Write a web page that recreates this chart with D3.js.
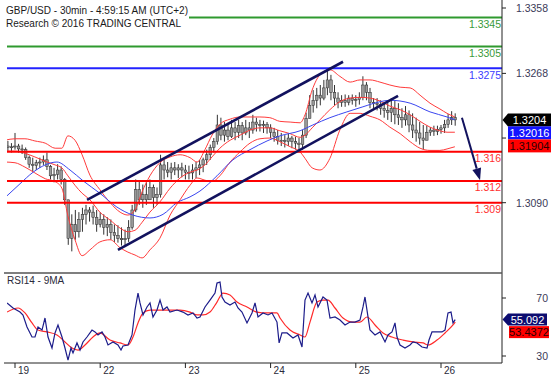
<!DOCTYPE html>
<html><head><meta charset="utf-8">
<script src="https://cdn.jsdelivr.net/npm/d3@7"></script>
<style>body{margin:0;background:#fff}svg{display:block;font-family:Arial,"Liberation Sans",sans-serif}</style>
</head><body><svg id="c" width="557" height="379"></svg>
<script>
// ---------- DATA ----------
const headerLine1 = "GBP/USD - 30min - 4:59:15 AM (UTC+2)";
const headerLine2 = "Research \u00a9 2016 TRADING CENTRAL";
const dayHours = [0, 24, 48, 72, 96, 120];
const dayLabels = ["19", "22", "23", "24", "25", "26"];
const priceTicks = [1.3358, 1.3268, 1.3179, 1.3090];
const priceTickLabels = ["1.3358", "1.3268", "", "1.3090"];
const rsiTicks = [70, 30];
const rsiTickLabels = ["70", "30"];

const levelValues = [1.3345, 1.3305, 1.3275, 1.316, 1.312, 1.309];
const levelLabels = ["1.3345", "1.3305", "1.3275", "1.316", "1.312", "1.309"];
const levelKinds = ["resistance", "resistance", "pivot", "support", "support", "support"];

// hourly bars, first bar at hour -2 (hours counted from the 19th, trading time)
const barStartHour = -2;
const firstOpen = 1.3168;
const highs = [1.3175,1.3172,1.3186,1.3171,1.3170,1.3166,1.3155,1.3152,1.3149,1.3152,1.3155,1.3159,1.3142,1.3138,1.3143,1.3140,1.3124,1.3094,1.3074,1.3080,1.3077,1.3083,1.3087,1.3084,1.3086,1.3080,1.3077,1.3074,1.3070,1.3067,1.3060,1.3059,1.3056,1.3053,1.3066,1.3087,1.3122,1.3119,1.3115,1.3118,1.3122,1.3115,1.3111,1.3156,1.3149,1.3146,1.3145,1.3146,1.3143,1.3145,1.3142,1.3141,1.3143,1.3146,1.3149,1.3152,1.3163,1.3170,1.3179,1.3211,1.3207,1.3201,1.3200,1.3204,1.3201,1.3204,1.3201,1.3204,1.3201,1.3211,1.3207,1.3204,1.3203,1.3201,1.3198,1.3193,1.3190,1.3186,1.3183,1.3185,1.3182,1.3181,1.3179,1.3190,1.3214,1.3238,1.3245,1.3248,1.3252,1.3259,1.3275,1.3266,1.3252,1.3242,1.3238,1.3239,1.3238,1.3239,1.3238,1.3242,1.3264,1.3256,1.3248,1.3234,1.3234,1.3231,1.3228,1.3231,1.3234,1.3231,1.3227,1.3220,1.3223,1.3217,1.3213,1.3207,1.3201,1.3197,1.3196,1.3194,1.3196,1.3196,1.3197,1.3204,1.3212,1.3216,1.3213];
const lows = [1.3160,1.3159,1.3163,1.3159,1.3157,1.3149,1.3138,1.3133,1.3135,1.3138,1.3142,1.3135,1.3122,1.3118,1.3122,1.3115,1.3087,1.3032,1.3023,1.3039,1.3042,1.3050,1.3060,1.3064,1.3060,1.3050,1.3056,1.3046,1.3044,1.3039,1.3036,1.3035,1.3031,1.3029,1.3036,1.3053,1.3077,1.3087,1.3083,1.3087,1.3094,1.3083,1.3087,1.3097,1.3122,1.3125,1.3122,1.3128,1.3124,1.3125,1.3122,1.3122,1.3122,1.3124,1.3128,1.3132,1.3142,1.3149,1.3159,1.3170,1.3176,1.3174,1.3176,1.3179,1.3176,1.3179,1.3176,1.3183,1.3179,1.3185,1.3188,1.3188,1.3186,1.3185,1.3179,1.3174,1.3170,1.3168,1.3166,1.3168,1.3165,1.3163,1.3159,1.3163,1.3179,1.3206,1.3214,1.3220,1.3224,1.3231,1.3238,1.3231,1.3224,1.3220,1.3222,1.3222,1.3224,1.3225,1.3222,1.3225,1.3231,1.3231,1.3220,1.3220,1.3217,1.3211,1.3207,1.3204,1.3201,1.3198,1.3197,1.3193,1.3196,1.3187,1.3179,1.3174,1.3170,1.3163,1.3176,1.3182,1.3182,1.3183,1.3185,1.3186,1.3193,1.3197,1.3196];
const closes = [1.3166,1.3167,1.3168,1.3164,1.3163,1.3152,1.3143,1.3141,1.3145,1.3146,1.3149,1.3140,1.3127,1.3129,1.3135,1.3122,1.3094,1.3041,1.3060,1.3050,1.3067,1.3074,1.3080,1.3077,1.3070,1.3060,1.3067,1.3056,1.3060,1.3049,1.3045,1.3041,1.3039,1.3041,1.3056,1.3080,1.3108,1.3094,1.3101,1.3094,1.3111,1.3097,1.3101,1.3142,1.3135,1.3132,1.3138,1.3135,1.3138,1.3135,1.3132,1.3131,1.3135,1.3138,1.3142,1.3149,1.3156,1.3166,1.3174,1.3197,1.3183,1.3190,1.3181,1.3193,1.3187,1.3196,1.3186,1.3193,1.3190,1.3201,1.3198,1.3196,1.3198,1.3193,1.3187,1.3181,1.3176,1.3176,1.3174,1.3179,1.3174,1.3172,1.3170,1.3183,1.3206,1.3224,1.3231,1.3238,1.3234,1.3248,1.3259,1.3242,1.3234,1.3228,1.3231,1.3228,1.3234,1.3231,1.3232,1.3235,1.3252,1.3242,1.3228,1.3227,1.3225,1.3220,1.3217,1.3214,1.3220,1.3211,1.3207,1.3204,1.3211,1.3197,1.3190,1.3186,1.3179,1.3176,1.3187,1.3190,1.3188,1.3191,1.3193,1.3198,1.3204,1.3207,1.3204];

// Bollinger bands
const bbHours = [-2.8,0,2.8,5.6,8.5,11.3,13.2,14.9,16.9,18.9,21.1,23.9,26.8,29.6,31.8,33.8,35.8,38.0,40.8,43.7,46.5,49.3,51.3,53.5,55.5,57.7,60.6,63.4,66.2,69.0,71.8,74.6,77.5,80.3,81.7,83.7,85.9,88.7,91.5,94.4,97.2,100.0,102.8,105.6,108.5,111.3,114.1,116.9,119.7,121.7,123.9];
const bbUpper = [1.3176,1.3178,1.3178,1.3175,1.3172,1.3165,1.3165,1.3182,1.3176,1.3156,1.3128,1.3108,1.3090,1.3077,1.3073,1.3080,1.3105,1.3127,1.3145,1.3153,1.3156,1.3152,1.3146,1.3163,1.3183,1.3198,1.3205,1.3208,1.3208,1.3208,1.3207,1.3202,1.3201,1.3200,1.3211,1.3245,1.3266,1.3273,1.3264,1.3256,1.3259,1.3259,1.3256,1.3252,1.3249,1.3248,1.3238,1.3227,1.3219,1.3213,1.3208];
const bbMiddle = [1.3161,1.3161,1.3158,1.3153,1.3147,1.3142,1.3138,1.3127,1.3114,1.3103,1.3094,1.3077,1.3066,1.3055,1.3050,1.3052,1.3063,1.3077,1.3091,1.3110,1.3124,1.3132,1.3135,1.3142,1.3153,1.3165,1.3176,1.3183,1.3190,1.3193,1.3193,1.3189,1.3185,1.3180,1.3183,1.3193,1.3204,1.3218,1.3229,1.3234,1.3235,1.3234,1.3230,1.3223,1.3218,1.3211,1.3202,1.3194,1.3189,1.3187,1.3187];
const bbLower = [1.3146,1.3145,1.3139,1.3131,1.3123,1.3119,1.3110,1.3072,1.3039,1.3017,1.3025,1.3036,1.3039,1.3028,1.3022,1.3018,1.3014,1.3025,1.3041,1.3073,1.3094,1.3114,1.3124,1.3121,1.3119,1.3127,1.3146,1.3160,1.3172,1.3178,1.3179,1.3174,1.3167,1.3160,1.3151,1.3138,1.3135,1.3151,1.3190,1.3213,1.3213,1.3209,1.3204,1.3194,1.3185,1.3174,1.3165,1.3162,1.3162,1.3164,1.3167];

// moving average (blue)
const maHours = [-2.8,1.4,5.1,8.5,11.8,15.5,19.2,23.9,28.7,33.2,38.0,41.7,45.6,49.3,52.1,56.9,61.4,66.2,71.0,74.6,80.3,83.9,88.7,93.5,98.0,102.8,105.6,111.3,116.9,121.7,123.9];
const maValues = [1.3097,1.3116,1.3132,1.3142,1.3146,1.3135,1.3120,1.3103,1.3084,1.3073,1.3069,1.3074,1.3090,1.3098,1.3106,1.3127,1.3149,1.3163,1.3175,1.3182,1.3189,1.3197,1.3207,1.3215,1.3222,1.3229,1.3231,1.3227,1.3215,1.3208,1.3204];

// trend channel and arrow (hour, price)
const channelUpperHours = [20.3, 92.4];
const channelUpperPrices = [1.3094, 1.3284];
const channelLowerHours = [29.0, 107.9];
const channelLowerPrices = [1.3025, 1.3237];
const arrowHours = [125.9, 131.0];
const arrowPrices = [1.3207, 1.3121];

// price boxes on the right axis
const lastPrice = 1.3204;
const boxValues = ["1.3204", "1.32016", "1.31904"];

// RSI14 and its 9MA
const rsiHours = [-2.25,-0.56,1.41,2.25,3.38,4.79,5.63,6.48,7.61,8.45,9.30,10.42,11.27,12.11,13.24,14.08,14.93,15.77,16.34,17.46,18.31,19.15,20.28,21.69,22.54,23.38,24.51,25.35,26.20,27.61,29.01,29.86,30.42,31.83,32.96,33.80,34.65,35.21,36.06,37.18,38.03,38.87,40.0,40.85,41.69,42.82,43.66,45.63,47.32,48.73,50.14,51.27,52.11,53.52,54.93,56.34,56.90,57.75,58.31,59.15,60.56,61.97,62.82,63.94,65.35,66.76,67.61,68.45,69.86,71.27,72.39,73.80,74.4,75.2,76.62,78.31,79.72,80.85,81.69,82.54,83.66,84.51,85.35,86.76,87.89,88.73,90.14,91.55,92.96,94.37,95.77,97.18,98.03,98.59,99.15,100.0,101.41,102.82,104.23,105.07,106.20,107.04,107.61,108.45,109.86,111.27,112.11,113.24,114.65,116.06,116.62,117.46,118.87,120.28,121.13,121.97,122.82,123.38,124.0];
const rsiValues = [66.6,63.1,60.3,58.3,50.0,43.1,43.1,50.0,47.9,56.2,43.1,35.5,45.9,51.4,43.1,35.5,27.2,35.5,32.1,39.0,34.1,39.7,43.1,47.9,46.6,44.5,46.6,43.1,37.6,39.7,37.6,34.1,36.9,37.6,44.5,61.7,73.4,66.6,58.3,63.8,66.6,56.9,61.7,68.6,61.7,63.8,60.3,61.7,60.3,58.3,59.7,56.2,56.9,63.8,68.6,73.4,80.3,81.0,70.7,67.2,65.2,67.2,63.1,60.3,52.8,59.7,66.6,56.9,59.7,58.3,59.7,53.4,39.0,45.9,45.9,42.4,44.5,36.2,68.6,73.4,66.6,72.1,63.8,70.7,68.6,56.2,56.9,54.8,51.4,53.4,53.4,54.8,63.8,70.7,61.7,47.9,44.5,46.6,39.7,44.5,46.6,52.8,43.1,37.6,35.5,37.6,39.7,39.0,36.2,35.5,41.0,46.6,46.6,46.6,47.9,59.7,60.3,52.8,55.092];
const rsiMaHours = [-2.25,0.85,2.82,4.79,6.48,9.01,11.83,14.08,16.06,17.75,19.72,21.97,23.94,26.76,29.58,31.83,33.24,34.65,36.06,38.03,40.0,42.82,46.48,49.30,51.27,52.96,54.93,56.90,58.59,60.56,62.54,65.35,68.17,70.99,73.80,74.65,77.46,80.28,81.69,83.10,85.07,86.76,88.17,90.14,92.39,95.21,97.18,99.15,101.41,103.66,106.20,109.30,112.11,114.93,116.34,118.87,121.13,123.38,124.0];
const rsiMaValues = [60.3,63.1,59.7,52.8,47.9,46.6,44.5,39.7,35.5,34.1,37.6,43.1,45.9,41.0,39.0,37.6,43.1,52.8,59.7,61.7,61.7,61.7,61.7,60.3,58.3,58.3,60.3,67.2,73.4,72.1,67.2,63.8,60.3,59.7,59.7,56.2,47.9,44.5,43.1,53.4,67.2,68.6,68.6,63.1,56.2,53.4,53.4,56.9,51.4,45.9,43.1,41.0,39.7,39.0,37.6,41.0,45.9,51.4,53.4372];
const rsiBoxValues = ["55.092", "53.4372"];
const rsiTitle = "RSI14 - 9MA";

// ---------- DRAWING ----------
const svg = d3.select("#c");
const xL = 4, xLines = 7, xR = 502;
const mainTop = 2, mainBot = 262, rsiTop = 273, rsiBot = 363;

const x = d3.scaleLinear().domain([0, 24]).range([15, 100.2]);
const y = d3.scaleLinear().domain([1.309, 1.3275]).range([202.7, 68.3]);
const yr = d3.scaleLinear().domain([30, 70]).range([356, 298]);

const defs = svg.append("defs");
defs.append("clipPath").attr("id", "cm").append("rect")
  .attr("x", xLines).attr("y", mainTop).attr("width", xR - xLines).attr("height", mainBot - mainTop);
defs.append("clipPath").attr("id", "cr").append("rect")
  .attr("x", xLines).attr("y", rsiTop + 1).attr("width", xR - xLines).attr("height", rsiBot - rsiTop - 1);

const main = svg.append("g").attr("clip-path", "url(#cm)");

// candles
const bars = highs.map((h, i) => ({
  t: barStartHour + i, o: i ? closes[i - 1] : firstOpen, h: h, l: lows[i], c: closes[i]
}));
main.append("g").selectAll("line").data(bars).join("line")
  .attr("x1", d => x(d.t)).attr("x2", d => x(d.t))
  .attr("y1", d => y(d.h)).attr("y2", d => y(d.l))
  .attr("stroke", "#333").attr("stroke-width", 1);
main.append("g").selectAll("rect").data(bars).join("rect")
  .attr("x", d => x(d.t) - 1.3).attr("width", 2.6)
  .attr("y", d => y(Math.max(d.o, d.c)))
  .attr("height", d => Math.max(1, Math.abs(y(d.o) - y(d.c))))
  .attr("fill", "#9a9a9a").attr("stroke", "#2a2a2a").attr("stroke-width", 0.5);

// indicator lines
const bbLine = d3.line().x((d, i) => x(bbHours[i])).y(d => y(d)).curve(d3.curveMonotoneX);
[bbUpper, bbMiddle, bbLower].forEach(arr => {
  main.append("path").attr("d", bbLine(arr)).attr("fill", "none")
    .attr("stroke", "#ff3b3b").attr("stroke-width", 1);
});
const maLine = d3.line().x((d, i) => x(maHours[i])).y(d => y(d)).curve(d3.curveMonotoneX);
main.append("path").attr("d", maLine(maValues)).attr("fill", "none")
  .attr("stroke", "#3a46f0").attr("stroke-width", 1);

// levels
const levelColor = { resistance: "#2f9a2f", pivot: "#2323ff", support: "#ff0000" };
const levelText = { resistance: "#3a9a3a", pivot: "#3b3bff", support: "#ff3030" };
levelValues.forEach((v, i) => {
  svg.append("line").attr("x1", xLines).attr("x2", xR).attr("y1", y(v)).attr("y2", y(v))
    .attr("stroke", levelColor[levelKinds[i]]).attr("stroke-width", 2);
  svg.append("text").attr("x", xR - 1).attr("y", y(v) + 10.5).attr("text-anchor", "end")
    .attr("font-size", "10.5px").attr("fill", levelText[levelKinds[i]]).text(levelLabels[i]);
});

// channel
const chanColor = "#12125e";
[[channelUpperHours, channelUpperPrices], [channelLowerHours, channelLowerPrices]].forEach(([hs, ps]) => {
  svg.append("line").attr("x1", x(hs[0])).attr("y1", y(ps[0])).attr("x2", x(hs[1])).attr("y2", y(ps[1]))
    .attr("stroke", chanColor).attr("stroke-width", 2.6);
});
// arrow
{
  const x1 = x(arrowHours[0]), y1 = y(arrowPrices[0]), x2 = x(arrowHours[1]), y2 = y(arrowPrices[1]);
  const ang = Math.atan2(y2 - y1, x2 - x1);
  const len = 12, half = 4.5;
  const bx = x2 - len * Math.cos(ang), by = y2 - len * Math.sin(ang);
  svg.append("line").attr("x1", x1).attr("y1", y1).attr("x2", bx).attr("y2", by)
    .attr("stroke", chanColor).attr("stroke-width", 2);
  const px = -Math.sin(ang), py = Math.cos(ang);
  svg.append("path").attr("d", `M${x2},${y2}L${bx + px * half},${by + py * half}L${bx - px * half},${by - py * half}Z`)
    .attr("fill", chanColor);
}

// header
const hdr = svg.append("g");
const hbg = hdr.append("rect").attr("fill", "#fff");
const t1 = hdr.append("text").attr("x", 6).attr("y", 14).attr("font-size", "10px").attr("fill", "#1a1a1a").text(headerLine1);
const t2 = hdr.append("text").attr("x", 6).attr("y", 27).attr("font-size", "10px").attr("fill", "#1a1a1a").text(headerLine2);
const bb1 = t1.node().getBBox(), bb2 = t2.node().getBBox();
hbg.attr("x", 4).attr("y", 2).attr("width", Math.max(bb1.x + bb1.width, bb2.x + bb2.width) - 3).attr("height", 28);

// axes frame
svg.append("line").attr("x1", xR).attr("x2", xR).attr("y1", 0).attr("y2", rsiBot).attr("stroke", "#222").attr("stroke-width", 1);
svg.append("line").attr("x1", xL).attr("x2", xR).attr("y1", rsiTop).attr("y2", rsiTop).attr("stroke", "#555").attr("stroke-width", 1.5);
svg.append("line").attr("x1", xL).attr("x2", xR).attr("y1", rsiBot).attr("y2", rsiBot).attr("stroke", "#222").attr("stroke-width", 1);

// price ticks
priceTicks.forEach((v, i) => {
  svg.append("line").attr("x1", xR).attr("x2", xR + 4).attr("y1", y(v)).attr("y2", y(v)).attr("stroke", "#222");
  if (priceTickLabels[i]) svg.append("text").attr("x", 548).attr("y", y(v) + 4).attr("text-anchor", "end")
    .attr("font-size", "10.5px").attr("fill", "#3a3a58").text(priceTickLabels[i]);
});
// rsi ticks
rsiTicks.forEach((v, i) => {
  svg.append("line").attr("x1", xR).attr("x2", xR + 4).attr("y1", yr(v)).attr("y2", yr(v)).attr("stroke", "#222");
  svg.append("text").attr("x", 548).attr("y", yr(v) + 4).attr("text-anchor", "end")
    .attr("font-size", "10.5px").attr("fill", "#3a3a58").text(rsiTickLabels[i]);
});
// x ticks
dayHours.forEach((h, i) => {
  svg.append("line").attr("x1", x(h)).attr("x2", x(h)).attr("y1", rsiBot).attr("y2", rsiBot + 5).attr("stroke", "#222");
  svg.append("text").attr("x", x(h) + 3).attr("y", 374).attr("font-size", "10px").attr("fill", "#2a2a3a").text(dayLabels[i]);
});

// price boxes
function pointerBox(yc, x0, x1, h, fill, txt, tcol) {
  const top = yc - h / 2, bot = yc + h / 2;
  svg.append("path").attr("d", `M${xR + 0.5},${yc}L${x0},${top}L${x1},${top}L${x1},${bot}L${x0},${bot}Z`).attr("fill", fill);
  svg.append("text").attr("x", (x0 + x1) / 2).attr("y", yc + 4).attr("text-anchor", "middle")
    .attr("font-size", "11px").attr("fill", tcol).text(txt);
}
function plainBox(top, x0, x1, h, fill, txt, tcol) {
  svg.append("rect").attr("x", x0).attr("y", top).attr("width", x1 - x0).attr("height", h).attr("fill", fill);
  svg.append("text").attr("x", (x0 + x1) / 2).attr("y", top + h / 2 + 4).attr("text-anchor", "middle")
    .attr("font-size", "11px").attr("fill", tcol).text(txt);
}
const yLast = y(lastPrice);
pointerBox(yLast, 508, 551, 13, "#000", boxValues[0], "#fff");
plainBox(yLast + 6.5, 508, 551, 13, "#1414ff", boxValues[1], "#fff");
plainBox(yLast + 19.5, 508, 551, 13, "#ff0000", boxValues[2], "#2a0000");

// RSI panel
const rsiG = svg.append("g").attr("clip-path", "url(#cr)");
const rLine = d3.line().x((d, i) => x(rsiHours[i])).y(d => yr(d));
const rmLine = d3.line().x((d, i) => x(rsiMaHours[i])).y(d => yr(d)).curve(d3.curveMonotoneX);
rsiG.append("path").attr("d", rmLine(rsiMaValues)).attr("fill", "none").attr("stroke", "#ff2a2a").attr("stroke-width", 1.2);
rsiG.append("path").attr("d", rLine(rsiValues)).attr("fill", "none").attr("stroke", "#1c1c8a").attr("stroke-width", 1.2);
svg.append("text").attr("x", 7).attr("y", 284).attr("font-size", "10px").attr("fill", "#2a2a3a").text(rsiTitle);

const yRsiLast = yr(+rsiBoxValues[0]);
pointerBox(yRsiLast, 508, 547, 12, "#0c0c70", rsiBoxValues[0], "#fff");
plainBox(yRsiLast + 6.5, 509, 549, 12, "#ff0000", rsiBoxValues[1], "#2a0000");
</script>
</body></html>
